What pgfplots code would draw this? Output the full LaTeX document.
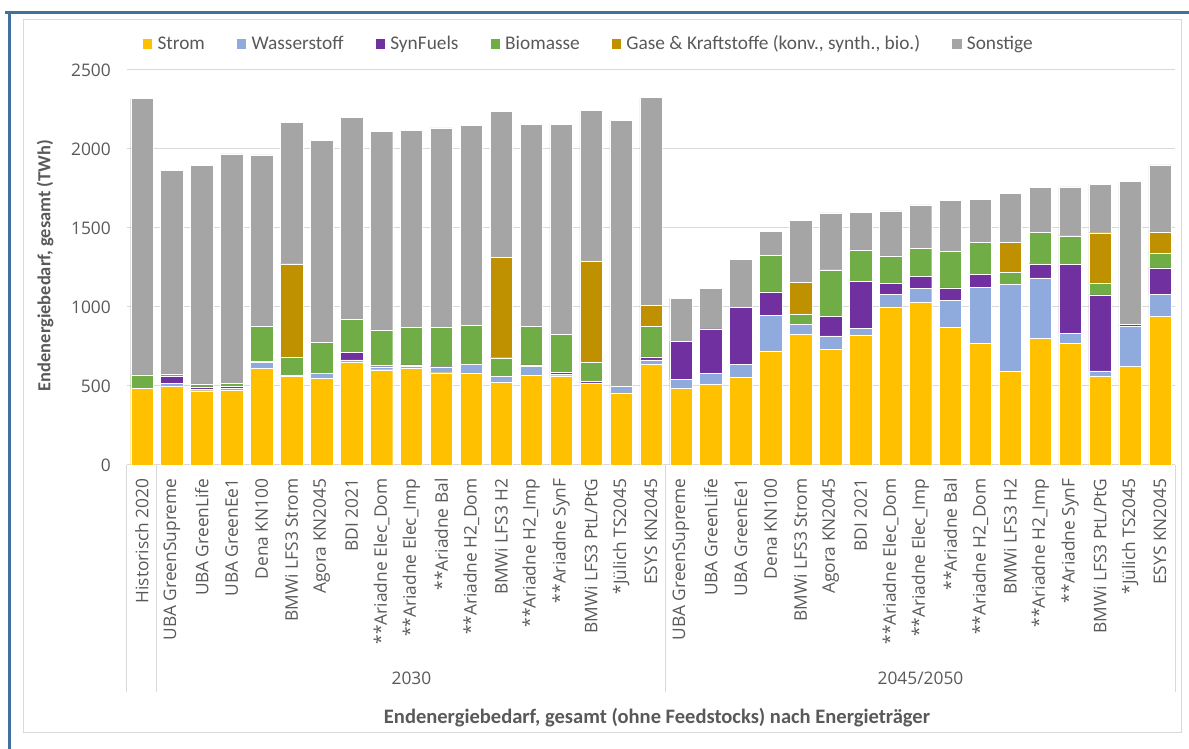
\documentclass[border=0pt]{standalone}
\usepackage{pgfplots}
\pgfplotsset{compat=1.18}
\usepackage{pgfplotstable}
\usepackage{fontspec}
\setmainfont{Open Sans}
\newfontfamily\calib{Carlito}
\definecolor{cStrom}{HTML}{FFC000}
\definecolor{cH}{HTML}{8FAADC}
\definecolor{cSyn}{HTML}{7030A0}
\definecolor{cBio}{HTML}{70AD47}
\definecolor{cGas}{HTML}{BF9000}
\definecolor{cSon}{HTML}{A5A5A5}
\definecolor{txt}{HTML}{595959}
\definecolor{gridc}{HTML}{D9D9D9}
\definecolor{frameblue}{HTML}{41719C}

\pgfplotstableread{
x strom h2 syn bio gas son
0 483 0 0 87 0 1749
1 500 17 44 15 0 1289
2 470 9 15 19 0 1384
3 473 10 15 17 0 1454
4 614 34 10 222 0 1082
5 563 7 0 114 590 893
6 549 31 0 199 0 1274
7 652 13 48 211 0 1275
8 603 19 7 226 0 1257
9 610 14 9 236 0 1247
10 584 32 6 249 0 1262
11 578 57 4 247 0 1262
12 525 34 0 120 633 926
13 568 57 8 243 0 1280
14 565 9 13 242 0 1329
15 517 3 8 122 641 954
16 456 44 0 0 0 1682
17 635 30 19 194 133 1314
18 483 59 241 0 0 272
19 509 71 281 0 0 255
20 553 86 357 0 0 306
21 722 223 150 234 0 148
22 829 61 0 64 200 393
23 730 87 122 297 0 359
24 823 40 298 200 0 238
25 1000 82 68 173 0 285
26 1032 88 74 175 0 277
27 870 171 80 229 0 327
28 769 357 80 201 0 274
29 591 552 0 78 188 312
30 805 380 89 198 0 285
31 769 63 437 182 0 310
32 564 32 481 76 317 308
33 623 253 15 0 0 902
34 942 137 169 95 133 423
}\data

\begin{document}
\begin{tikzpicture}
\path[use as bounding box] (0,0) rectangle (891.75pt,561.75pt);
\draw[gridc, line width=0.75pt] (17.25pt,12pt) rectangle (885.75pt,546.75pt);
\draw[frameblue, line width=2.25pt] (3.75pt,552pt) -- (895pt,552pt);
\draw[frameblue, line width=2.25pt] (6.75pt,553pt) -- (6.75pt,-5pt);
\begin{axis}[
  at={(95.25pt,213pt)}, anchor=south west,
  width=786pt, height=296.25pt, scale only axis,
  ybar stacked, bar width=0.75,
  ymin=0, ymax=2500, ytick={0,500,...,2500},
  xmin=-0.5, xmax=34.5, xtick={0,...,34},
  xticklabels={{Historisch 2020},
    {UBA GreenSupreme},{UBA GreenLife},{UBA GreenEe1},{Dena KN100},{BMWi LFS3 Strom},{Agora KN2045},{BDI 2021},{**Ariadne Elec\_Dom},{**Ariadne Elec\_Imp},{**Ariadne Bal},{**Ariadne H2\_Dom},{BMWi LFS3 H2},{**Ariadne H2\_Imp},{**Ariadne SynF},{BMWi LFS3 PtL/PtG},{*Jülich TS2045},{ESYS KN2045},
    {UBA GreenSupreme},{UBA GreenLife},{UBA GreenEe1},{Dena KN100},{BMWi LFS3 Strom},{Agora KN2045},{BDI 2021},{**Ariadne Elec\_Dom},{**Ariadne Elec\_Imp},{**Ariadne Bal},{**Ariadne H2\_Dom},{BMWi LFS3 H2},{**Ariadne H2\_Imp},{**Ariadne SynF},{BMWi LFS3 PtL/PtG},{*Jülich TS2045},{ESYS KN2045}},
  axis x line=bottom, axis y line=left,
  axis line style={-},
  x axis line style={gridc, line width=0.75pt},
  y axis line style={draw=none},
  major tick length=0pt,
  ymajorgrids, grid style={gridc, line width=0.75pt},
  /pgf/number format/assume math mode=true,
  /pgf/number format/1000 sep={},
  ticklabel style={font=\fontsize{13}{15}\selectfont, text=txt},
  yticklabel style={anchor=east, inner sep=0pt, xshift=-12pt},
  xticklabel style={rotate=90, anchor=east, inner ysep=0pt, inner xsep=10pt},
  clip=false,
  legend style={at={(rel axis cs:0.441,1.066)}, anchor=center, draw=none, fill=none,
    font=\calib\fontsize{14.5}{16}\selectfont, text=txt,
    /tikz/every even column/.append style={column sep=22pt},
    /tikz/every odd column/.append style={column sep=2pt}},
  legend columns=6,
  legend cell align=left,
  legend image code/.code={\path[#1, draw=none] (0pt,-3.5pt) rectangle (7pt,3.5pt);},
]
\addplot[fill=cStrom, draw=white, line width=0.3pt] table[x=x,y=strom]{\data};
\addplot[fill=cH, draw=white, line width=0.3pt] table[x=x,y=h2]{\data};
\addplot[fill=cSyn, draw=white, line width=0.3pt] table[x=x,y=syn]{\data};
\addplot[fill=cBio, draw=white, line width=0.3pt] table[x=x,y=bio]{\data};
\addplot[fill=cGas, draw=white, line width=0.3pt] table[x=x,y=gas]{\data};
\addplot[fill=cSon, draw=white, line width=0.3pt] table[x=x,y=son]{\data};
\legend{Strom, Wasserstoff, SynFuels, Biomasse, {Gase \& Kraftstoffe (konv., synth., bio.)}, Sonstige}
\draw[gridc, line width=0.75pt] (axis cs:-0.5,0) -- ++(0pt,-170.25pt);
\draw[gridc, line width=0.75pt] (axis cs:0.5,0) -- ++(0pt,-170.25pt);
\draw[gridc, line width=0.75pt] (axis cs:17.5,0) -- ++(0pt,-170.25pt);
\draw[gridc, line width=0.75pt] (axis cs:34.5,0) -- ++(0pt,-170.25pt);
\node[font=\fontsize{13}{15}\selectfont, text=txt] at ([yshift=-159.75pt]axis cs:9,0) {2030};
\node[font=\fontsize{13}{15}\selectfont, text=txt] at ([yshift=-159.75pt]axis cs:26,0) {2045/2050};
\node[font=\calib\bfseries\fontsize{15.4}{18}\selectfont, text=txt] at ([yshift=-189.75pt,xshift=4.5pt]rel axis cs:0.5,0) {Endenergiebedarf, gesamt (ohne Feedstocks) nach Energieträger};
\node[rotate=90, font=\calib\bfseries\fontsize{13.8}{16}\selectfont, text=txt] at ([xshift=-61.5pt,yshift=1.5pt]rel axis cs:0,0.5) {Endenergiebedarf, gesamt (TWh)};
\end{axis}
\end{tikzpicture}
\end{document}
